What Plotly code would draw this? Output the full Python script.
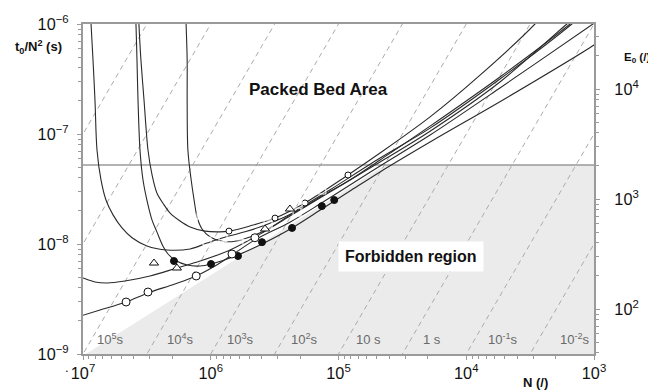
import plotly.graph_objects as go

# ---------------- data ----------------
# iso-analysis-time guide lines (s)
t0_values = [1e-2, 1e-1, 1, 10, 1e2, 1e3, 1e4, 1e5, 1e6, 1e7]
t0_labels = ["10<sup>-2</sup>s", "10<sup>-1</sup>s", "1 s", "10 s", "10<sup>2</sup>s",
             "10<sup>3</sup>s", "10<sup>4</sup>s", "10<sup>5</sup>s"]
N_span = [8e2, 1.2e7]

# packed bed limit (E0 = 2000)
packed_limit = 5.22e-8

# forbidden region outline
forbid_N = [9.48e6, 4.33e4, 1.0e3, 1.0e3, 9.48e6]
forbid_y = [1.0e-9, 5.22e-8, 5.22e-8, 1.0e-9, 1.0e-9]

# kinetic plot curves
sq_N = [8.81e6, 8.65e6, 8.35e6, 8.06e6, 7.77e6, 7.23e6, 6.61e6, 5.82e6, 4.95e6, 4.13e6, 3.16e6,
        2.20e6, 1.45e6, 1.07e6, 8.02e5, 5.40e5, 3.56e5, 2.11e5, 1.35e5, 8.13e4, 4.73e4, 1.92e4,
        5.45e3, 1.54e3, 1.30e3]
sq_y = [1.65e-6, 1.0e-6, 4.71e-7, 2.04e-7, 7.16e-8, 3.82e-8, 2.51e-8, 1.84e-8, 1.40e-8, 1.14e-8,
        9.60e-9, 8.82e-9, 9.02e-9, 1.02e-8, 1.14e-8, 1.29e-8, 1.52e-8, 2.0e-8, 2.73e-8, 3.82e-8,
        5.81e-8, 1.18e-7, 3.30e-7, 1.0e-6, 1.18e-6]

fc_N = [3.92e6, 3.85e6, 3.78e6, 3.71e6, 3.58e6, 3.39e6, 3.16e6, 2.88e6, 2.64e6, 2.37e6, 2.16e6,
        1.91e6, 1.53e6, 1.21e6, 9.95e5, 6.12e5, 3.97e5, 2.31e5, 1.35e5, 8.13e4, 4.73e4, 1.92e4,
        4.71e3, 1.0e3, 8.5e2]
fc_y = [1.65e-6, 1.0e-6, 4.71e-7, 2.04e-7, 7.16e-8, 3.82e-8, 2.51e-8, 1.65e-8, 1.29e-8, 9.60e-9,
        8.11e-9, 7.16e-9, 6.44e-9, 6.31e-9, 6.58e-9, 7.94e-9, 1.0e-8, 1.40e-8, 2.08e-8, 3.03e-8,
        4.52e-8, 8.45e-8, 2.17e-7, 6.44e-7, 7.4e-7]

oc_small_N = [3.71e6, 3.65e6, 3.52e6, 3.33e6, 3.10e6, 2.88e6, 2.64e6, 2.32e6, 2.08e6, 1.74e6,
              1.45e6, 1.11e6, 8.47e5, 7.20e5, 4.93e5, 3.14e5, 1.83e5, 8.43e4, 4.73e4, 1.92e4,
              7.80e3, 2.90e3, 2.42e3]
oc_small_y = [1.65e-6, 1.0e-6, 4.71e-7, 2.04e-7, 7.16e-8, 4.24e-8, 2.91e-8, 2.27e-8, 1.91e-8,
              1.62e-8, 1.43e-8, 1.31e-8, 1.29e-8, 1.31e-8, 1.46e-8, 1.72e-8, 2.36e-8, 4.24e-8,
              6.71e-8, 1.43e-7, 3.43e-7, 1.0e-6, 1.28e-6]

cr_N = [1.59e6, 1.56e6, 1.53e6, 1.53e6, 1.51e6, 1.43e6, 1.35e6, 1.28e6, 1.17e6, 1.01e6, 8.17e5,
        6.46e5, 4.93e5, 3.44e5, 2.0e5, 1.17e5, 4.73e4, 1.92e4, 5.45e3, 1.49e3, 1.29e3]
cr_y = [1.65e-6, 1.0e-6, 4.71e-7, 2.04e-7, 7.16e-8, 3.98e-8, 2.51e-8, 1.76e-8, 1.37e-8, 1.16e-8,
        1.06e-8, 1.06e-8, 1.16e-8, 1.40e-8, 2.12e-8, 3.10e-8, 6.05e-8, 1.13e-7, 3.16e-7, 1.0e-6,
        1.16e-6]

tr_N = [1.05e7, 1.0e7, 8.06e6, 6.49e6, 4.69e6, 2.99e6, 1.84e6, 1.21e6, 7.06e5, 4.11e5, 2.40e5,
        1.40e5, 8.13e4, 4.73e4, 1.92e4, 5.45e3, 1.63e3, 1.38e3]
tr_y = [5.01e-9, 4.91e-9, 4.52e-9, 4.42e-9, 4.61e-9, 5.12e-9, 6.05e-9, 7.00e-9, 8.82e-9, 1.23e-8,
        1.80e-8, 2.62e-8, 3.82e-8, 5.56e-8, 1.06e-7, 2.97e-7, 1.0e-6, 1.16e-6]

oc_N = [1.05e7, 7.36e6, 4.60e6, 3.10e6, 1.91e6, 1.30e6, 9.27e5, 6.82e5, 4.51e5, 2.40e5, 1.40e5,
        8.13e4, 4.73e4, 1.92e4, 5.45e3, 1.02e3, 8.97e2]
oc_y = [2.21e-9, 2.51e-9, 2.97e-9, 3.59e-9, 4.33e-9, 5.12e-9, 6.31e-9, 7.94e-9, 1.09e-8, 1.58e-8,
        2.31e-8, 3.44e-8, 5.12e-8, 9.79e-8, 2.62e-7, 1.0e-6, 1.11e-6]

# measured points
sq_pts_N = [1.07e6, 8.02e5, 3.56e5, 2.11e5, 1.35e5]
sq_pts_y = [1.06e-8, 1.14e-8, 1.52e-8, 1.95e-8, 3.10e-8]
fc_pts_N = [1.94e6, 9.95e5, 6.12e5, 3.97e5, 2.31e5, 1.35e5, 1.08e5]
fc_pts_y = [7.00e-9, 6.58e-9, 7.78e-9, 1.04e-8, 1.40e-8, 2.21e-8, 2.51e-8]
ocs_pts_N = [7.20e5, 3.14e5, 1.83e5, 8.43e4]
ocs_pts_y = [1.31e-8, 1.72e-8, 2.36e-8, 4.24e-8]
tr_pts_N = [2.78e6, 1.84e6, 3.76e5, 2.40e5]
tr_pts_y = [6.71e-9, 6.05e-9, 1.37e-8, 2.08e-8]
cr_pts_N = [1.28e6, 5.60e5, 1.93e5]
cr_pts_y = [1.69e-8, 1.09e-8, 2.36e-8]
oc_pts_N = [4.60e6, 3.10e6, 1.30e6, 6.82e5, 4.51e5]
oc_pts_y = [2.97e-9, 3.66e-9, 5.12e-9, 8.11e-9, 1.14e-8]

# ---------------- figure ----------------
FONT = "Liberation Sans, Arial, Helvetica, sans-serif"
AX = "#9a9a9a"
CURVE = "#2a2a2a"

fig = go.Figure()

fig.add_trace(go.Scatter(x=forbid_N, y=forbid_y, mode="lines", fill="toself",
                         fillcolor="#ebebeb", line=dict(width=0), hoverinfo="skip"))

for t0 in t0_values:
    fig.add_trace(go.Scatter(x=N_span, y=[t0 / n ** 2 for n in N_span], mode="lines",
                             line=dict(color="#ababab", width=1, dash="5px,4px"),
                             hoverinfo="skip"))

fig.add_trace(go.Scatter(x=N_span, y=[packed_limit, packed_limit], mode="lines",
                         line=dict(color=AX, width=1.5), hoverinfo="skip"))

for cx, cy in [(sq_N, sq_y), (fc_N, fc_y), (oc_small_N, oc_small_y), (cr_N, cr_y),
               (tr_N, tr_y), (oc_N, oc_y)]:
    fig.add_trace(go.Scatter(x=cx, y=cy, mode="lines",
                             line=dict(color=CURVE, width=1.1, shape="spline", smoothing=0.9),
                             hoverinfo="skip"))

def pts(x, y, symbol, size, fill="white", lw=1):
    fig.add_trace(go.Scatter(x=x, y=y, mode="markers",
                             marker=dict(symbol=symbol, size=size, color=fill,
                                         line=dict(color="#111", width=lw))))

pts(sq_pts_N, sq_pts_y, "square-open", 8)
pts(fc_pts_N, fc_pts_y, "circle", 7, fill="#111")
pts(ocs_pts_N, ocs_pts_y, "circle", 6)
pts(tr_pts_N, tr_pts_y, "triangle-up", 8)
pts(cr_pts_N, cr_pts_y, "cross-thin-open", 8)
pts(oc_pts_N, oc_pts_y, "circle", 8)

# dummy trace to carry the right axis
fig.add_trace(go.Scatter(x=[1e5], y=[100], yaxis="y2", mode="markers",
                         marker=dict(opacity=0), hoverinfo="skip"))

axis_common = dict(type="log", dtick=1, exponentformat="power", showexponent="all",
                   showline=True, linecolor=AX, linewidth=1.5, ticks="outside", ticklen=4,
                   tickcolor=AX, showgrid=False, zeroline=False, automargin=False,
                   tickfont=dict(family=FONT, size=13, color="#111"),
                   minor=dict(ticks="outside", ticklen=3, tickcolor=AX, dtick="D1",
                              showgrid=False))

# the page body has an 8 px margin, so the figure is sized to fit the 656x390 window
fig.update_layout(
    template="none",
    width=648, height=382,
    margin=dict(l=75, r=62, t=16, b=36, autoexpand=False),
    plot_bgcolor="white", paper_bgcolor="white",
    showlegend=False,
    font=dict(family=FONT, color="#111"),
    xaxis=dict(range=[7, 3], mirror=True, **axis_common),
    yaxis=dict(range=[-9, -6], ticklabelstandoff=6, **axis_common),
    yaxis2=dict(range=[1.591, 4.591], overlaying="y", side="right", ticklabelstandoff=12,
                **axis_common),
)

ann = []
label_x = [0.963, 0.822, 0.683, 0.558, 0.434, 0.309, 0.190, 0.053]
for lx, txt in zip(label_x, t0_labels):
    ann.append(dict(x=lx, y=0.045, xref="paper", yref="paper", text=txt, showarrow=False,
                    font=dict(family=FONT, size=13, color="#6a6a6a"), xanchor="center",
                    yanchor="middle"))
ann.append(dict(x=0.46, y=0.80, xref="paper", yref="paper", text="<b>Packed Bed Area</b>",
                showarrow=False, xanchor="center", yanchor="middle",
                font=dict(family=FONT, size=17, color="#111")))
ann.append(dict(x=0.642, y=0.294, xref="paper", yref="paper", text="<b>Forbidden region</b>",
                showarrow=False, bgcolor="white", borderpad=6, xanchor="center",
                yanchor="middle", font=dict(family=FONT, size=16, color="#111")))
ann.append(dict(x=-0.137, y=0.93, xref="paper", yref="paper",
                text="<b>t<sub>0</sub>/N<sup>2</sup> (s)</b>", showarrow=False, xanchor="left",
                yanchor="middle", font=dict(family=FONT, size=13, color="#111")))
ann.append(dict(x=1.113, y=0.897, xref="paper", yref="paper", text="<b>E<sub>0</sub> (/)</b>",
                showarrow=False, xanchor="right", yanchor="middle",
                font=dict(family=FONT, size=11.5, color="#111")))
ann.append(dict(x=0.885, y=-0.085, xref="paper", yref="paper", text="<b>N (/)</b>",
                showarrow=False, xanchor="center", yanchor="middle",
                font=dict(family=FONT, size=13, color="#111")))
ann.append(dict(x=-0.031, y=-0.04, xref="paper", yref="paper", text=".",
                showarrow=False, xanchor="center", yanchor="middle",
                font=dict(family=FONT, size=13, color="#111")))
fig.update_layout(annotations=ann)

fig.write_html("out.html")
